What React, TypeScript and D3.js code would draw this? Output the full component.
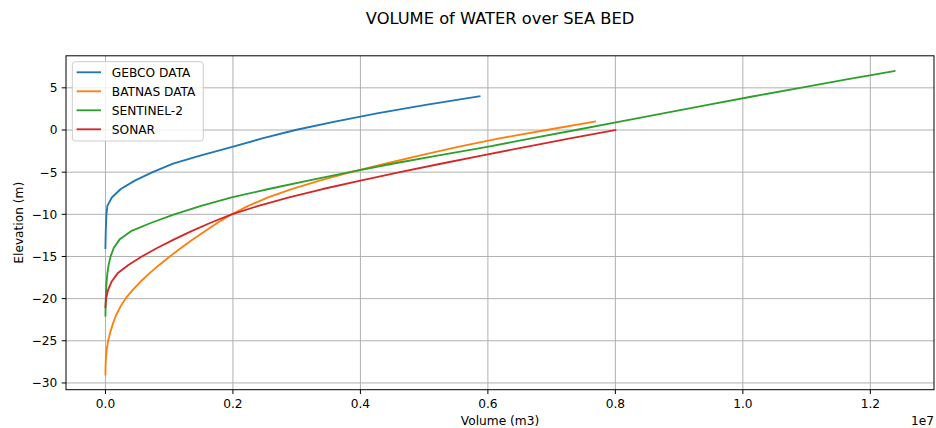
import React from "react";
import * as d3 from "d3";

// Elevation levels (m) and the volume (m3) reached at each level
const gebcoElev = [-14, -13, -12, -11, -10, -9, -8, -7, -6, -5, -4, -3, -2, -1, 0, 1, 2, 3, 4];
const gebcoVol = [0, 2000, 5000, 10000, 16000, 30000, 100000, 240000, 460000, 740000, 1060000, 1500000, 1990000, 2460000, 2980000, 3600000, 4280000, 5050000, 5870000];

const batnasElev = [-29, -28, -27, -26, -25, -24, -23, -22, -21, -20, -19, -18, -17, -16, -15, -14, -13, -12, -11, -10, -9, -8, -7, -6, -5, -4, -3, -2, -1, 0, 1];
const batnasVol = [0, 2000, 8000, 20000, 42000, 75000, 115000, 165000, 232000, 314000, 424000, 549000, 689000, 844000, 1009000, 1184000, 1369000, 1560000, 1760000, 1980000, 2240000, 2550000, 2920000, 3360000, 3850000, 4390000, 4940000, 5530000, 6180000, 6920000, 7680000];

const sentinelElev = [-22, -21, -20, -19, -18, -17, -16, -15, -14, -13, -12, -11, -10, -9, -8, -7, -6, -5, -4, -3, -2, -1, 0, 1, 2, 3, 4, 5, 6, 7];
const sentinelVol = [0, 2000, 5000, 10000, 18000, 30000, 50000, 80000, 130000, 220000, 400000, 720000, 1080000, 1500000, 1980000, 2560000, 3180000, 3830000, 4500000, 5230000, 5990000, 6680000, 7380000, 8070000, 8770000, 9470000, 10170000, 10900000, 11630000, 12380000];

const sonarElev = [-21, -20, -19, -18, -17, -16, -15, -14, -13, -12, -11, -10, -9, -8, -7, -6, -5, -4, -3, -2, -1, 0];
const sonarVol = [0, 10000, 40000, 95000, 190000, 360000, 570000, 810000, 1070000, 1350000, 1650000, 1980000, 2400000, 2880000, 3410000, 4000000, 4620000, 5260000, 5920000, 6600000, 7290000, 8000000];

const seriesNames = ["GEBCO DATA", "BATNAS DATA", "SENTINEL-2", "SONAR"];
const seriesColors = ["#1f77b4", "#ff7f0e", "#2ca02c", "#d62728"];

const xTicks = [0, 2e6, 4e6, 6e6, 8e6, 10e6, 12e6];
const yTicks = [-30, -25, -20, -15, -10, -5, 0, 5];

const W = 936;
const H = 428;
const M = { left: 66, right: 934, top: 55.8, bottom: 389.7 };
const FONT = "DejaVu Sans, sans-serif";
const FS = 12.2;
const TICK = 4.3;

export default function App() {
  const allVol = [...gebcoVol, ...batnasVol, ...sentinelVol, ...sonarVol];
  const allElev = [...gebcoElev, ...batnasElev, ...sentinelElev, ...sonarElev];
  const vMin = d3.min(allVol)!;
  const vMax = d3.max(allVol)!;
  const eMin = d3.min(allElev)!;
  const eMax = d3.max(allElev)!;
  const vPad = (vMax - vMin) * 0.05;
  const ePad = (eMax - eMin) * 0.05;

  const x = d3.scaleLinear().domain([vMin - vPad, vMax + vPad]).range([M.left, M.right]);
  const y = d3.scaleLinear().domain([eMin - ePad, eMax + ePad]).range([M.bottom, M.top]);

  const series = [
    { vol: gebcoVol, elev: gebcoElev },
    { vol: batnasVol, elev: batnasElev },
    { vol: sentinelVol, elev: sentinelElev },
    { vol: sonarVol, elev: sonarElev },
  ];

  const line = d3
    .line<[number, number]>()
    .x((d) => x(d[0]))
    .y((d) => y(d[1]));

  const fmtX = (v: number) => (v / 1e7).toFixed(1);
  const fmtY = (v: number) => (v < 0 ? "\u2212" + Math.abs(v) : String(v));

  const legX = 72.3;
  const legY = 61.7;
  const legW = 131;
  const legH = 79.3;
  const rowH = 19;

  return (
    <svg width={W} height={H} style={{ display: "block", position: "absolute", left: 0, top: 0 }} fontFamily={FONT}>
      <rect x={0} y={0} width={W} height={H} fill="#fff" />
      <text x={(M.left + M.right) / 2} y={24} textAnchor="middle" fontSize={16.3} fill="#000">
        VOLUME of WATER over SEA BED
      </text>
      <defs>
        <clipPath id="clip">
          <rect x={M.left} y={M.top} width={M.right - M.left} height={M.bottom - M.top} />
        </clipPath>
      </defs>
      {/* grid */}
      {xTicks.map((t) => (
        <line key={"gx" + t} x1={x(t)} x2={x(t)} y1={M.top} y2={M.bottom} stroke="#b0b0b0" strokeWidth={1} />
      ))}
      {yTicks.map((t) => (
        <line key={"gy" + t} x1={M.left} x2={M.right} y1={y(t)} y2={y(t)} stroke="#b0b0b0" strokeWidth={1} />
      ))}
      {/* series */}
      <g clipPath="url(#clip)">
        {series.map((s, i) => (
          <path
            key={seriesNames[i]}
            d={line(s.vol.map((v, j) => [v, s.elev[j]] as [number, number])) || ""}
            fill="none"
            stroke={seriesColors[i]}
            strokeWidth={1.85}
            strokeLinejoin="round"
            strokeLinecap="square"
          />
        ))}
      </g>
      {/* spines */}
      <rect x={M.left} y={M.top} width={M.right - M.left} height={M.bottom - M.top} fill="none" stroke="#000" strokeWidth={1} />
      {/* x ticks */}
      {xTicks.map((t) => (
        <g key={"xt" + t}>
          <line x1={x(t)} x2={x(t)} y1={M.bottom} y2={M.bottom + TICK} stroke="#000" strokeWidth={1} />
          <text x={x(t)} y={408} textAnchor="middle" fontSize={FS} fill="#000">
            {fmtX(t)}
          </text>
        </g>
      ))}
      {/* y ticks */}
      {yTicks.map((t) => (
        <g key={"yt" + t}>
          <line x1={M.left - TICK} x2={M.left} y1={y(t)} y2={y(t)} stroke="#000" strokeWidth={1} />
          <text x={M.left - TICK - 4.3} y={y(t) + 4.4} textAnchor="end" fontSize={FS} fill="#000">
            {fmtY(t)}
          </text>
        </g>
      ))}
      <text x={(M.left + M.right) / 2} y={424.5} textAnchor="middle" fontSize={FS} fill="#000">
        Volume (m3)
      </text>
      <text x={M.right} y={424.5} textAnchor="end" fontSize={FS} fill="#000">
        1e7
      </text>
      <text
        transform={`translate(22.5, ${(M.top + M.bottom) / 2}) rotate(-90)`}
        textAnchor="middle"
        fontSize={FS}
        fill="#000"
      >
        Elevation (m)
      </text>
      {/* legend */}
      <rect x={legX} y={legY} width={legW} height={legH} rx={3} fill="#fff" fillOpacity={0.8} stroke="#cccccc" strokeWidth={1} />
      {seriesNames.map((n, i) => (
        <g key={"lg" + n}>
          <line
            x1={legX + 4.3}
            x2={legX + 28.7}
            y1={legY + 10.6 + i * rowH}
            y2={legY + 10.6 + i * rowH}
            stroke={seriesColors[i]}
            strokeWidth={1.85}
          />
          <text x={legX + 39.5} y={legY + 10.6 + i * rowH + 4.4} fontSize={FS} fill="#000">
            {n}
          </text>
        </g>
      ))}
    </svg>
  );
}
